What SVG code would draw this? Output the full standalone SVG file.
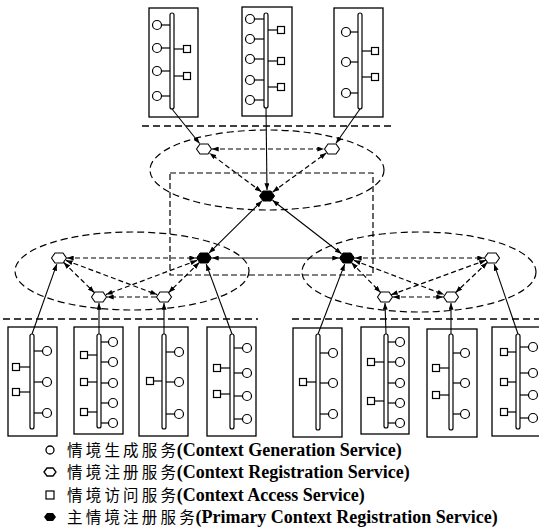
<svg xmlns="http://www.w3.org/2000/svg" width="539" height="529" viewBox="0 0 539 529">
<style>
.box{fill:#fff;stroke:#000;stroke-width:1.3}
.bus{fill:#fff;stroke:#000;stroke-width:1.2}
.c{fill:#fff;stroke:#000;stroke-width:1.2}
.s{fill:#fff;stroke:#000;stroke-width:1.2}
.w{stroke:#000;stroke-width:1.2}
.hex{fill:#fff;stroke:#000;stroke-width:1.1}
.phex{fill:#000;stroke:#000;stroke-width:1}
.solid{stroke:#000;stroke-width:1.1;fill:none}
.dash{stroke:#000;stroke-width:1.2;fill:none;stroke-dasharray:5 3}
.ell{stroke:#000;stroke-width:1.2;fill:none;stroke-dasharray:7 4}
.sep{stroke:#000;stroke-width:1.3;fill:none;stroke-dasharray:7 4}
.lt{font-family:"Liberation Serif","Noto Sans CJK SC",serif;font-size:18px;font-weight:bold;fill:#000}
.cj{font-family:"Noto Sans CJK SC",sans-serif;font-size:15.5px;font-weight:normal;letter-spacing:3.2px}
</style>
<defs>
<marker id="ah" viewBox="0 0 8 6" refX="8" refY="3" markerWidth="7" markerHeight="5" markerUnits="userSpaceOnUse" orient="auto-start-reverse">
<path d="M0,0 L8,3 L0,6 z" fill="#000"/>
</marker>
<polygon id="hx" points="-7.5,0 -4,-5 4,-5 7.5,0 4,5 -4,5"/>
</defs>

<!-- separators and areas -->
<g id="areas">
<line class="sep" x1="142" y1="126" x2="394" y2="126"/>
<line class="sep" x1="3" y1="319" x2="258" y2="319"/>
<line class="sep" x1="292" y1="319" x2="539" y2="319"/>
<rect x="170" y="173" width="203" height="102" fill="none" stroke="#000" stroke-width="1.2" stroke-dasharray="6 3"/>
<ellipse class="ell" cx="267" cy="170" rx="117" ry="40"/>
<ellipse class="ell" cx="132" cy="271" rx="117" ry="39"/>
<ellipse class="ell" cx="419" cy="272" rx="117" ry="40"/>
</g>

<!-- top boxes -->
<g id="box1">
<rect class="box" x="149" y="8" width="49" height="109"/>
<line class="w" x1="161.5" y1="25" x2="170" y2="25"/><line class="w" x1="161.5" y1="48" x2="170" y2="48"/><line class="w" x1="161.5" y1="71" x2="170" y2="71"/><line class="w" x1="161.5" y1="96" x2="170" y2="96"/>
<line class="w" x1="174" y1="49" x2="183.5" y2="49"/><line class="w" x1="174" y1="76" x2="183.5" y2="76"/>
<rect class="bus" x="170" y="13" width="4" height="96" rx="2"/>
<circle class="c" cx="157" cy="25" r="4.5"/><circle class="c" cx="157" cy="48" r="4.5"/><circle class="c" cx="157" cy="71" r="4.5"/><circle class="c" cx="157" cy="96" r="4.5"/>
<rect class="s" x="183.5" y="45.5" width="7" height="7"/><rect class="s" x="183.5" y="72.5" width="7" height="7"/>
</g>
<g id="box2">
<rect class="box" x="242" y="7" width="50" height="109"/>
<line class="w" x1="254.5" y1="19" x2="264" y2="19"/><line class="w" x1="254.5" y1="39" x2="264" y2="39"/><line class="w" x1="254.5" y1="59" x2="264" y2="59"/><line class="w" x1="254.5" y1="80" x2="264" y2="80"/><line class="w" x1="254.5" y1="100" x2="264" y2="100"/>
<line class="w" x1="268" y1="30" x2="277.5" y2="30"/><line class="w" x1="268" y1="61" x2="277.5" y2="61"/><line class="w" x1="268" y1="87" x2="277.5" y2="87"/>
<rect class="bus" x="264" y="13" width="4" height="95" rx="2"/>
<circle class="c" cx="250" cy="19" r="4.5"/><circle class="c" cx="250" cy="39" r="4.5"/><circle class="c" cx="250" cy="59" r="4.5"/><circle class="c" cx="250" cy="80" r="4.5"/><circle class="c" cx="250" cy="100" r="4.5"/>
<rect class="s" x="277.5" y="26.5" width="7" height="7"/><rect class="s" x="277.5" y="57.5" width="7" height="7"/><rect class="s" x="277.5" y="83.5" width="7" height="7"/>
</g>
<g id="box3">
<rect class="box" x="334" y="8" width="49" height="109"/>
<line class="w" x1="350.5" y1="32" x2="358" y2="32"/><line class="w" x1="350.5" y1="62" x2="358" y2="62"/><line class="w" x1="350.5" y1="93" x2="358" y2="93"/>
<line class="w" x1="362" y1="51" x2="371.5" y2="51"/><line class="w" x1="362" y1="77" x2="371.5" y2="77"/>
<rect class="bus" x="358" y="13" width="4" height="96" rx="2"/>
<circle class="c" cx="346" cy="32" r="4.5"/><circle class="c" cx="346" cy="62" r="4.5"/><circle class="c" cx="346" cy="93" r="4.5"/>
<rect class="s" x="371.5" y="47.5" width="7" height="7"/><rect class="s" x="371.5" y="73.5" width="7" height="7"/>
</g>

<!-- bottom boxes -->
<g id="boxA">
<rect class="box" x="8" y="327" width="49" height="109"/>
<line class="w" x1="34" y1="351" x2="42.5" y2="351"/><line class="w" x1="34" y1="382" x2="42.5" y2="382"/><line class="w" x1="34" y1="413" x2="42.5" y2="413"/>
<line class="w" x1="19.5" y1="367" x2="30" y2="367"/><line class="w" x1="19.5" y1="392" x2="30" y2="392"/>
<rect class="bus" x="30" y="334" width="4" height="95" rx="2"/>
<circle class="c" cx="47" cy="351" r="4.5"/><circle class="c" cx="47" cy="382" r="4.5"/><circle class="c" cx="47" cy="413" r="4.5"/>
<rect class="s" x="12.5" y="363.5" width="7" height="7"/><rect class="s" x="12.5" y="388.5" width="7" height="7"/>
</g>
<g id="boxB">
<rect class="box" x="74" y="327" width="49" height="107"/>
<line class="w" x1="101" y1="342" x2="108.5" y2="342"/><line class="w" x1="101" y1="362" x2="108.5" y2="362"/><line class="w" x1="101" y1="383" x2="108.5" y2="383"/><line class="w" x1="101" y1="403" x2="108.5" y2="403"/><line class="w" x1="101" y1="423" x2="108.5" y2="423"/>
<line class="w" x1="87.5" y1="355" x2="97" y2="355"/><line class="w" x1="87.5" y1="382" x2="97" y2="382"/><line class="w" x1="87.5" y1="412" x2="97" y2="412"/>
<rect class="bus" x="97" y="334" width="4" height="94" rx="2"/>
<circle class="c" cx="113" cy="342" r="4.5"/><circle class="c" cx="113" cy="362" r="4.5"/><circle class="c" cx="113" cy="383" r="4.5"/><circle class="c" cx="113" cy="403" r="4.5"/><circle class="c" cx="113" cy="423" r="4.5"/>
<rect class="s" x="80.5" y="351.5" width="7" height="7"/><rect class="s" x="80.5" y="378.5" width="7" height="7"/><rect class="s" x="80.5" y="408.5" width="7" height="7"/>
</g>
<g id="boxC">
<rect class="box" x="139" y="327" width="49" height="109"/>
<line class="w" x1="166" y1="352" x2="174.5" y2="352"/><line class="w" x1="166" y1="382" x2="174.5" y2="382"/><line class="w" x1="166" y1="414" x2="174.5" y2="414"/>
<line class="w" x1="153.5" y1="381" x2="162" y2="381"/>
<rect class="bus" x="162" y="334" width="4" height="95" rx="2"/>
<circle class="c" cx="179" cy="352" r="4.5"/><circle class="c" cx="179" cy="382" r="4.5"/><circle class="c" cx="179" cy="414" r="4.5"/>
<rect class="s" x="146.5" y="377.5" width="7" height="7"/>
</g>
<g id="boxD">
<rect class="box" x="207" y="327" width="49" height="109"/>
<line class="w" x1="234" y1="348" x2="242.5" y2="348"/><line class="w" x1="234" y1="373" x2="242.5" y2="373"/><line class="w" x1="234" y1="396" x2="242.5" y2="396"/><line class="w" x1="234" y1="419" x2="242.5" y2="419"/>
<line class="w" x1="220.5" y1="368" x2="230" y2="368"/><line class="w" x1="220.5" y1="394" x2="230" y2="394"/>
<rect class="bus" x="230" y="334" width="4" height="95" rx="2"/>
<circle class="c" cx="247" cy="348" r="4.5"/><circle class="c" cx="247" cy="373" r="4.5"/><circle class="c" cx="247" cy="396" r="4.5"/><circle class="c" cx="247" cy="419" r="4.5"/>
<rect class="s" x="213.5" y="364.5" width="7" height="7"/><rect class="s" x="213.5" y="390.5" width="7" height="7"/>
</g>
<g id="boxE">
<rect class="box" x="293" y="328" width="49" height="109"/>
<line class="w" x1="320" y1="353" x2="328.5" y2="353"/><line class="w" x1="320" y1="383" x2="328.5" y2="383"/><line class="w" x1="320" y1="414" x2="328.5" y2="414"/>
<line class="w" x1="306.5" y1="382" x2="316" y2="382"/>
<rect class="bus" x="316" y="334" width="4" height="96" rx="2"/>
<circle class="c" cx="333" cy="353" r="4.5"/><circle class="c" cx="333" cy="383" r="4.5"/><circle class="c" cx="333" cy="414" r="4.5"/>
<rect class="s" x="299.5" y="378.5" width="7" height="7"/>
</g>
<g id="boxF">
<rect class="box" x="361" y="327" width="48" height="107"/>
<line class="w" x1="388" y1="342" x2="395.5" y2="342"/><line class="w" x1="388" y1="362" x2="395.5" y2="362"/><line class="w" x1="388" y1="383" x2="395.5" y2="383"/><line class="w" x1="388" y1="403" x2="395.5" y2="403"/><line class="w" x1="388" y1="423" x2="395.5" y2="423"/>
<line class="w" x1="374.5" y1="362" x2="384" y2="362"/><line class="w" x1="374.5" y1="401" x2="384" y2="401"/>
<rect class="bus" x="384" y="334" width="4" height="94" rx="2"/>
<circle class="c" cx="400" cy="342" r="4.5"/><circle class="c" cx="400" cy="362" r="4.5"/><circle class="c" cx="400" cy="383" r="4.5"/><circle class="c" cx="400" cy="403" r="4.5"/><circle class="c" cx="400" cy="423" r="4.5"/>
<rect class="s" x="367.5" y="358.5" width="7" height="7"/><rect class="s" x="367.5" y="397.5" width="7" height="7"/>
</g>
<g id="boxG">
<rect class="box" x="427" y="329" width="50" height="108"/>
<line class="w" x1="453" y1="353" x2="460.5" y2="353"/><line class="w" x1="453" y1="383" x2="460.5" y2="383"/><line class="w" x1="453" y1="414" x2="460.5" y2="414"/>
<line class="w" x1="439.5" y1="368" x2="449" y2="368"/><line class="w" x1="439.5" y1="395" x2="449" y2="395"/>
<rect class="bus" x="449" y="334" width="4" height="96" rx="2"/>
<circle class="c" cx="465" cy="353" r="4.5"/><circle class="c" cx="465" cy="383" r="4.5"/><circle class="c" cx="465" cy="414" r="4.5"/>
<rect class="s" x="432.5" y="364.5" width="7" height="7"/><rect class="s" x="432.5" y="391.5" width="7" height="7"/>
</g>
<g id="boxH">
<rect class="box" x="492" y="327" width="60" height="109"/>
<line class="w" x1="520" y1="347" x2="528.5" y2="347"/><line class="w" x1="520" y1="373" x2="528.5" y2="373"/><line class="w" x1="520" y1="395" x2="528.5" y2="395"/><line class="w" x1="520" y1="418" x2="528.5" y2="418"/>
<line class="w" x1="507.5" y1="352" x2="516" y2="352"/><line class="w" x1="507.5" y1="382" x2="516" y2="382"/><line class="w" x1="507.5" y1="412" x2="516" y2="412"/>
<rect class="bus" x="516" y="334" width="4" height="95" rx="2"/>
<circle class="c" cx="533" cy="347" r="4.5"/><circle class="c" cx="533" cy="373" r="4.5"/><circle class="c" cx="533" cy="395" r="4.5"/><circle class="c" cx="533" cy="418" r="4.5"/>
<rect class="s" x="500.5" y="348.5" width="7" height="7"/><rect class="s" x="500.5" y="378.5" width="7" height="7"/><rect class="s" x="500.5" y="408.5" width="7" height="7"/>
</g>

<!-- connectors -->
<g id="connectors">
<line class="solid" x1="172" y1="109" x2="199.6" y2="143.5" marker-end="url(#ah)"/>
<line class="solid" x1="266" y1="108" x2="267" y2="190" marker-end="url(#ah)"/>
<line class="solid" x1="360" y1="109" x2="336" y2="143.3" marker-end="url(#ah)"/>
<line class="solid" x1="32" y1="334" x2="56.8" y2="264.1" marker-end="url(#ah)"/>
<line class="solid" x1="99" y1="334" x2="99" y2="303" marker-end="url(#ah)"/>
<line class="solid" x1="164" y1="334" x2="164" y2="303" marker-end="url(#ah)"/>
<line class="solid" x1="232" y1="334" x2="206.2" y2="264.1" marker-end="url(#ah)"/>
<line class="solid" x1="318" y1="334" x2="344.7" y2="264.1" marker-end="url(#ah)"/>
<line class="solid" x1="386" y1="334" x2="385" y2="303" marker-end="url(#ah)"/>
<line class="solid" x1="451" y1="334" x2="451" y2="303" marker-end="url(#ah)"/>
<line class="solid" x1="518" y1="334" x2="494.1" y2="264.1" marker-end="url(#ah)"/>
<line class="solid" x1="262" y1="200.9" x2="209" y2="253.1" marker-start="url(#ah)" marker-end="url(#ah)"/>
<line class="solid" x1="272.5" y1="200.3" x2="341.5" y2="253.7" marker-start="url(#ah)" marker-end="url(#ah)"/>
<line class="solid" x1="212" y1="258" x2="339" y2="258" marker-start="url(#ah)" marker-end="url(#ah)"/>
<line class="dash" x1="212" y1="149" x2="324" y2="149" marker-start="url(#ah)" marker-end="url(#ah)"/>
<line class="dash" x1="261.4" y1="191.8" x2="209.6" y2="153.2" marker-start="url(#ah)" marker-end="url(#ah)"/>
<line class="dash" x1="272.7" y1="191.9" x2="326.3" y2="153.1" marker-start="url(#ah)" marker-end="url(#ah)"/>
<line class="dash" x1="67" y1="258" x2="196" y2="258" marker-start="url(#ah)" marker-end="url(#ah)"/>
<line class="dash" x1="63.7" y1="262.5" x2="94.3" y2="292.5" marker-start="url(#ah)" marker-end="url(#ah)"/>
<line class="dash" x1="66" y1="260.4" x2="157" y2="294.6" marker-start="url(#ah)" marker-end="url(#ah)"/>
<line class="dash" x1="197" y1="260.4" x2="106" y2="294.6" marker-start="url(#ah)" marker-end="url(#ah)"/>
<line class="dash" x1="199.3" y1="262.5" x2="168.7" y2="292.5" marker-start="url(#ah)" marker-end="url(#ah)"/>
<line class="dash" x1="156" y1="297" x2="107" y2="297" marker-end="url(#ah)"/>
<line class="dash" x1="355" y1="258" x2="484" y2="258" marker-start="url(#ah)" marker-end="url(#ah)"/>
<line class="dash" x1="351.5" y1="262.6" x2="380.5" y2="292.4" marker-start="url(#ah)" marker-end="url(#ah)"/>
<line class="dash" x1="354" y1="260.4" x2="444" y2="294.6" marker-start="url(#ah)" marker-end="url(#ah)"/>
<line class="dash" x1="485.9" y1="260.2" x2="391.1" y2="294.8" marker-start="url(#ah)" marker-end="url(#ah)"/>
<line class="dash" x1="487.3" y1="262.5" x2="455.7" y2="292.5" marker-start="url(#ah)" marker-end="url(#ah)"/>
<line class="dash" x1="393" y1="297" x2="443" y2="297" marker-start="url(#ah)" marker-end="url(#ah)"/>
</g>

<!-- hexagon nodes -->
<g id="T1"><use href="#hx" class="hex" x="204" y="149"/></g>
<g id="T2"><use href="#hx" class="hex" x="332" y="149"/></g>
<g id="PT"><use href="#hx" class="phex" x="267" y="196"/></g>
<g id="L1"><use href="#hx" class="hex" x="59" y="258"/></g>
<g id="PL"><use href="#hx" class="phex" x="204" y="258"/></g>
<g id="L2"><use href="#hx" class="hex" x="99" y="297"/></g>
<g id="L3"><use href="#hx" class="hex" x="164" y="297"/></g>
<g id="PR"><use href="#hx" class="phex" x="347" y="258"/></g>
<g id="R1"><use href="#hx" class="hex" x="492" y="258"/></g>
<g id="R2"><use href="#hx" class="hex" x="385" y="297"/></g>
<g id="R3"><use href="#hx" class="hex" x="451" y="297"/></g>

<!-- legend -->
<g id="legend">
<circle cx="50" cy="450" r="4" fill="#fff" stroke="#000" stroke-width="1.3"/>
<polygon points="44,472 47,468 53,468 56,472 53,476 47,476" fill="#fff" stroke="#000" stroke-width="1.3"/>
<rect x="46" y="491" width="8" height="8" fill="#fff" stroke="#000" stroke-width="1.2"/>
<polygon points="44,517 47,513 53,513 56,517 53,521 47,521" fill="#000"/>
<text class="lt" x="67" y="456"><tspan class="cj">情境生成服务</tspan><tspan dx="-2.5">(Context Generation Service)</tspan></text>
<text class="lt" x="67" y="478"><tspan class="cj">情境注册服务</tspan><tspan dx="-2.5">(Context Registration Service)</tspan></text>
<text class="lt" x="67" y="501"><tspan class="cj">情境访问服务</tspan><tspan dx="-2.5">(Context Access Service)</tspan></text>
<text class="lt" x="67" y="523"><tspan class="cj">主情境注册服务</tspan><tspan dx="-2.5">(Primary Context Registration Service)</tspan></text>
</g>
</svg>
